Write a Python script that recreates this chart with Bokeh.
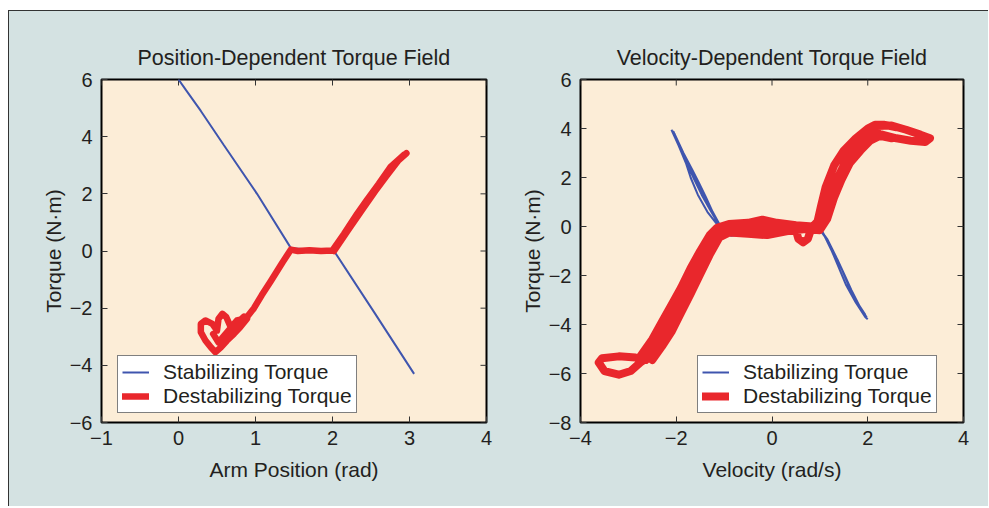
import numpy as np
from bokeh.plotting import figure
from bokeh.models import Legend, LegendItem, FixedTicker
from bokeh.layouts import row
from bokeh.embed import file_html
from bokeh.resources import INLINE

# ---------------- data ----------------
# Position-dependent field (x: arm position rad, t: torque N·m)
pos_blue_x = [0.0, 0.1, 0.29, 0.59, 1.02, 1.46, 1.7, 2.02, 2.54, 3.06]
pos_blue_t = [6.0, 5.62, 4.9, 3.7, 2.0, 0.1, 0.05, 0.0, -2.14, -4.30]

pos_red_x1 = [2.93, 2.88, 2.75, 2.6, 2.45, 2.32, 2.15, 2.0, 1.85, 1.7, 1.55, 1.46,
              1.35, 1.2, 1.08, 0.98, 0.89, 0.80, 0.76, 0.68, 0.62, 0.57, 0.52,
              0.50, 0.44, 0.35, 0.29, 0.29, 0.35, 0.42, 0.48, 0.55, 0.63, 0.72,
              0.80, 0.89]
pos_red_t1 = [3.37, 3.25, 2.93, 2.35, 1.8, 1.30, 0.6, 0.02, 0.0, 0.03, 0.0, 0.05,
              -0.4, -1.05, -1.55, -2.0, -2.31, -2.4, -2.43, -2.67, -2.31, -2.2, -2.37,
              -2.78, -2.55, -2.43, -2.55, -2.84, -3.13, -3.37, -3.54, -3.37, -3.13, -2.9,
              -2.67, -2.37]
pos_red_x2 = [2.02, 2.2, 2.4, 2.55, 2.7, 2.85, 2.96]
pos_red_t2 = [0.0, 0.72, 1.5, 2.08, 2.62, 3.15, 3.42]
pos_red_x3 = [0.45, 0.52, 0.58, 0.66, 0.75, 0.85]
pos_red_t3 = [-2.9, -3.2, -3.0, -2.75, -2.55, -2.3]

# Velocity-dependent field (x: velocity rad/s, t: torque N·m)
vel_blue_x1 = [-2.1, -1.95, -1.8, -1.7, -1.55, -1.35, -1.15, -1.05]
vel_blue_t1 = [3.95, 3.3, 2.6, 2.0, 1.3, 0.6, 0.1, -0.05]
vel_blue_x2 = [-2.07, -1.9, -1.74, -1.62, -1.47, -1.3, -1.15, -1.0, -0.85, -0.72]
vel_blue_t2 = [3.9, 3.2, 2.4, 1.9, 1.3, 0.7, 0.2, -0.2, -0.38, -0.35]
vel_blue_x3 = [-2.04, -1.85, -1.66, -1.53, -1.38, -1.24, -1.1, -0.98]
vel_blue_t3 = [3.8, 3.0, 2.3, 1.8, 1.2, 0.6, 0.1, -0.15]
vel_blue_x7 = [-2.06, -1.88, -1.7, -1.58, -1.42, -1.27, -1.12, -1.0]
vel_blue_t7 = [3.88, 3.1, 2.35, 1.85, 1.25, 0.65, 0.15, -0.1]
vel_blue_x4 = [0.95, 1.1, 1.25, 1.4, 1.55, 1.75, 1.95, 2.0]
vel_blue_t4 = [0.0, -0.4, -1.0, -1.7, -2.4, -3.1, -3.7, -3.78]
vel_blue_x5 = [1.0, 1.15, 1.33, 1.47, 1.62, 1.78, 1.98]
vel_blue_t5 = [-0.1, -0.5, -1.2, -1.8, -2.5, -3.1, -3.72]
vel_blue_x6 = [1.05, 1.22, 1.38, 1.52, 1.66, 1.83, 1.95]
vel_blue_t6 = [-0.2, -0.8, -1.4, -2.0, -2.6, -3.25, -3.6]

vel_red_x1 = [-2.64, -2.85, -3.2, -3.55, -3.62, -3.5, -3.2, -2.95, -2.75, -2.6,
              -2.45, -2.3, -2.15, -1.95, -1.75, -1.55, -1.35, -1.2, -1.08, -0.9,
              -0.6, -0.3, 0.0, 0.3, 0.5, 0.55, 0.65, 0.75, 0.8, 0.95,
              1.05, 1.15, 1.3, 1.5, 1.7, 1.9, 2.1, 2.2, 2.5, 2.8, 3.1, 3.3,
              3.2, 2.9, 2.6, 2.4, 2.2]
vel_red_t1 = [-5.45, -5.35, -5.3, -5.38, -5.55, -5.9, -6.05, -5.9, -5.55, -5.35,
              -5.0, -4.5, -4.0, -3.2, -2.5, -1.7, -1.0, -0.45, -0.1, 0.0,
              0.05, 0.1, 0.0, 0.0, -0.15, -0.5, -0.65, -0.5, -0.2, -0.05,
              0.2, 0.9, 1.7, 2.5, 3.1, 3.55, 3.9, 4.1, 4.12, 3.95, 3.75, 3.6,
              3.45, 3.5, 3.6, 3.7, 3.8]
vel_red_x2 = [-2.75, -2.5, -2.3, -2.1, -1.9, -1.7, -1.5, -1.3, -1.15, -0.9, -0.5,
              -0.2, 0.1, 0.5, 0.85, 0.95, 1.02, 1.12, 1.3, 1.5, 1.75, 2.0, 2.15,
              2.35, 2.6]
vel_red_t2 = [-5.3, -4.6, -3.9, -3.2, -2.5, -1.7, -1.0, -0.35, -0.05, 0.1, 0.15,
              0.28, 0.15, 0.05, 0.0, 0.2, 0.8, 1.6, 2.5, 3.1, 3.6, 4.0, 4.15,
              4.15, 4.05]
vel_red_x3 = [-2.5, -2.3, -2.1, -1.92, -1.7, -1.5, -1.3, -1.1, -0.9, -0.5, -0.1,
              0.3, 0.7, 1.0, 1.15, 1.3, 1.45, 1.63, 1.85, 2.05, 2.25, 2.5]
vel_red_t3 = [-5.45, -4.9, -4.3, -3.6, -2.75, -1.95, -1.15, -0.45, -0.25, -0.3,
              -0.35, -0.2, -0.1, -0.15, 0.3, 1.2, 1.9, 2.6, 3.1, 3.5, 3.7, 3.6]
vel_red_x4 = [-2.6, -2.4, -2.2, -2.0, -1.82, -1.62, -1.42, -1.22, -1.05, -0.7,
              -0.3, 0.2, 0.6, 0.92, 1.08, 1.2, 1.38, 1.58, 1.8, 2.02, 2.2]
vel_red_t4 = [-5.4, -4.8, -4.15, -3.45, -2.75, -1.95, -1.2, -0.5, -0.12, -0.1,
              -0.05, -0.1, 0.0, -0.05, 0.25, 1.0, 1.8, 2.55, 3.15, 3.6, 3.85]

pos_x_ticks = [-1, 0, 1, 2, 3, 4]
pos_x_tick_labels = ["−1", "0", "1", "2", "3", "4"]
pos_y_ticks = [-6, -4, -2, 0, 2, 4, 6]
pos_y_tick_labels = ["−6", "−4", "−2", "0", "2", "4", "6"]
vel_x_ticks = [-4, -2, 0, 2, 4]
vel_x_tick_labels = ["−4", "−2", "0", "2", "4"]
vel_y_ticks = [-8, -6, -4, -2, 0, 2, 4, 6]
vel_y_tick_labels = ["−8", "−6", "−4", "−2", "0", "2", "4", "6"]

# ---------------- style ----------------
FONT = "Liberation Sans"
OUTER = "#d4e2e2"
INNER = "#fcedd7"
BLUE = "#3f55ae"
RED = "#e9272c"
TXT = "#231f20"
TICK = "#333333"


def join(*parts):
    xs, ys = [], []
    for i in range(0, len(parts), 2):
        if xs:
            xs.append(np.nan)
            ys.append(np.nan)
        xs.extend(parts[i])
        ys.extend(parts[i + 1])
    return xs, ys


def make(title, xlabel, xr, yr, xt, xtl, yt, ytl, mbl, mbr, fw):
    p = figure(frame_width=fw, frame_height=343, x_range=xr, y_range=yr,
               output_backend="svg", toolbar_location=None,
               min_border_left=mbl, min_border_right=mbr,
               min_border_top=68, min_border_bottom=84,
               background_fill_color=INNER, border_fill_color=OUTER,
               title=title, x_axis_label=xlabel, y_axis_label="Torque (N·m)")
    p.title.text_font = FONT
    p.title.text_font_size = "21.5px"
    p.title.text_font_style = "normal"
    p.title.text_color = TXT
    p.title.align = "center"
    p.title.standoff = 19
    p.grid.visible = False
    p.outline_line_color = "black"
    p.outline_line_width = 2
    p.outline_line_alpha = 1
    for ax, ticks, labels in ((p.xaxis[0], xt, xtl), (p.yaxis[0], yt, ytl)):
        ax.ticker = FixedTicker(ticks=ticks)
        ax.major_label_overrides = {t: l for t, l in zip(ticks, labels)}
        ax.major_label_text_font = FONT
        ax.major_label_text_font_size = "20px"
        ax.major_label_text_color = TXT
        ax.axis_label_text_font = FONT
        ax.axis_label_text_font_size = "21px"
        ax.axis_label_text_font_style = "normal"
        ax.axis_label_text_color = TXT
        ax.axis_line_color = None
        ax.major_tick_in = 6
        ax.major_tick_out = 0
        ax.major_tick_line_color = TICK
        ax.minor_tick_line_color = None
    p.xaxis[0].major_label_standoff = 8
    p.xaxis[0].axis_label_standoff = 10
    p.yaxis[0].major_label_standoff = 9
    p.yaxis[0].axis_label_standoff = 2
    # inward tick marks on the top and right edges of the frame
    p.scatter(xt, [yr[1]] * len(xt), marker="dash", size=12, angle=np.pi / 2,
              line_color=TICK, line_width=1)
    p.scatter([xr[1]] * len(yt), yt, marker="dash", size=12, angle=0,
              line_color=TICK, line_width=1)
    return p


def add_legend(p, rb, rr, loc):
    leg = Legend(items=[LegendItem(label="Stabilizing Torque", renderers=[rb]),
                        LegendItem(label="Destabilizing Torque", renderers=[rr])],
                 location=loc, padding=4, spacing=0, margin=0,
                 glyph_width=27, glyph_height=20, label_standoff=14,
                 label_text_font=FONT, label_text_font_size="21px",
                 label_text_color=TXT, label_height=20,
                 border_line_color="black", border_line_width=1.5,
                 background_fill_color="white", background_fill_alpha=1)
    p.add_layout(leg)


# left plot
p1 = make("Position-Dependent Torque Field", "Arm Position (rad)", (-1, 4), (-6, 6),
          pos_x_ticks, pos_x_tick_labels, pos_y_ticks, pos_y_tick_labels, 92, 24, 385)
rb1 = p1.line(pos_blue_x, pos_blue_t, line_color=BLUE, line_width=2)
rx, ry = join(pos_red_x1, pos_red_t1, pos_red_x2, pos_red_t2, pos_red_x3, pos_red_t3)
rr1 = p1.line(rx, ry, line_color=RED, line_width=6.5, line_join="round", line_cap="round")
add_legend(p1, rb1, rr1, (16, 9))

# right plot
p2 = make("Velocity-Dependent Torque Field", "Velocity (rad/s)", (-4, 4), (-8, 6),
          vel_x_ticks, vel_x_tick_labels, vel_y_ticks, vel_y_tick_labels, 70, 25, 383)
bx, by = join(vel_blue_x1, vel_blue_t1, vel_blue_x2, vel_blue_t2, vel_blue_x3, vel_blue_t3,
              vel_blue_x7, vel_blue_t7,
              vel_blue_x4, vel_blue_t4, vel_blue_x5, vel_blue_t5, vel_blue_x6, vel_blue_t6)
rb2 = p2.line(bx, by, line_color=BLUE, line_width=2, line_join="round")
rx2, ry2 = join(vel_red_x1, vel_red_t1, vel_red_x2, vel_red_t2, vel_red_x3, vel_red_t3,
                vel_red_x4, vel_red_t4)
rr2 = p2.line(rx2, ry2, line_color=RED, line_width=8, line_join="round", line_cap="round")
add_legend(p2, rb2, rr2, (117, 9))

layout = row(p1, p2, styles={"border-top": "1px solid #333333",
                             "border-left": "1px solid #333333",
                             "margin-top": "10px",
                             "margin-left": "8px",
                             "background-color": OUTER})

open("out.html", "w").write(file_html(layout, INLINE))
